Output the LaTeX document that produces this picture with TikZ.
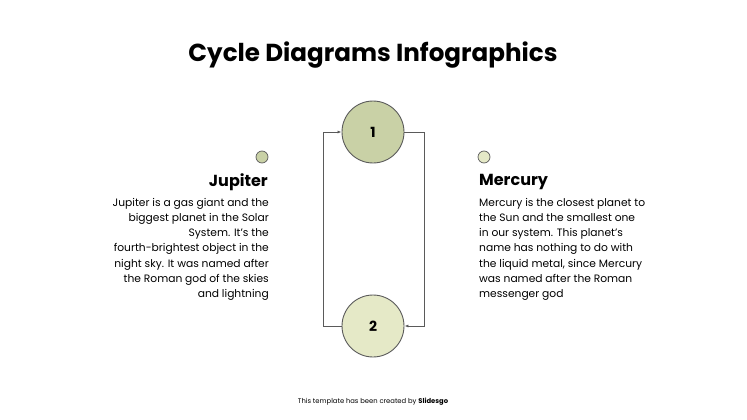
\documentclass[tikz,border=0pt]{standalone}
\usepackage{fontspec}
\setmainfont{Poppins}
\usetikzlibrary{arrows.meta, calc}
\definecolor{mygreen}{RGB}{201,209,166}
\definecolor{mylight}{RGB}{229,233,199}
\definecolor{myline}{RGB}{90,90,90}
\tikzstyle{bubble} = [circle, draw=myline, line width=0.9pt, minimum size=62pt,
    inner sep=0, font=\fontsize{14}{16}\selectfont\bfseries]
\tikzstyle{dot} = [circle, draw=myline, line width=0.7pt, minimum size=12pt, inner sep=0]
\tikzstyle{heading} = [font=\fontsize{16}{19}\selectfont\bfseries, inner sep=0]
\tikzstyle{body} = [font=\fontsize{10.7}{15.2}\selectfont, inner sep=0]

\begin{document}
\begin{tikzpicture}[x=1pt, y=-1pt]
\useasboundingbox (0,0) rectangle (747,420);

% title
\node[font=\fontsize{24.6}{28}\selectfont\bfseries] (title) at (373,55) {Cycle Diagrams Infographics};

% circles
\node[bubble, fill=mygreen] (one) at (373,132) {1};
\node[bubble, fill=mylight] (two) at (373,326) {2};

% connectors
\draw[myline, line width=0.8pt, -{Latex[length=4pt]}] (two.west) -- (323,326) -- (323,132) -- (one.west);
\draw[myline, line width=0.8pt, -{Latex[length=4pt]}] (one.east) -- (424,132) -- (424,326) -- (two.east);

%%% JUPITER
\node[dot, fill=mygreen] (jdot) at (262,157) {};
\node[heading, anchor=east] (jup) at (268,182) {Jupiter};
\node[body, anchor=north east, align=right] (jtext) at (269,198) {Jupiter is a gas giant and the\\ biggest planet in the Solar\\ System. It's the\\ fourth-brightest object in the\\ night sky. It was named after\\ the Roman god of the skies\\ and lightning};

%%% MERCURY
\node[dot, fill=mylight] (mdot) at (484,157) {};
\node[heading, anchor=west] (mer) at (479,182) {Mercury};
\node[body, anchor=north west, align=left] (mtext) at (479,198) {Mercury is the closest planet to\\ the Sun and the smallest one\\ in our system. This planet's\\ name has nothing to do with\\ the liquid metal, since Mercury\\ was named after the Roman\\ messenger god};

% footer
\node[font=\fontsize{6.8}{8}\selectfont] (foot) at (373,402) {This template has been created by \textbf{Slidesgo}};
\end{tikzpicture}
\end{document}
